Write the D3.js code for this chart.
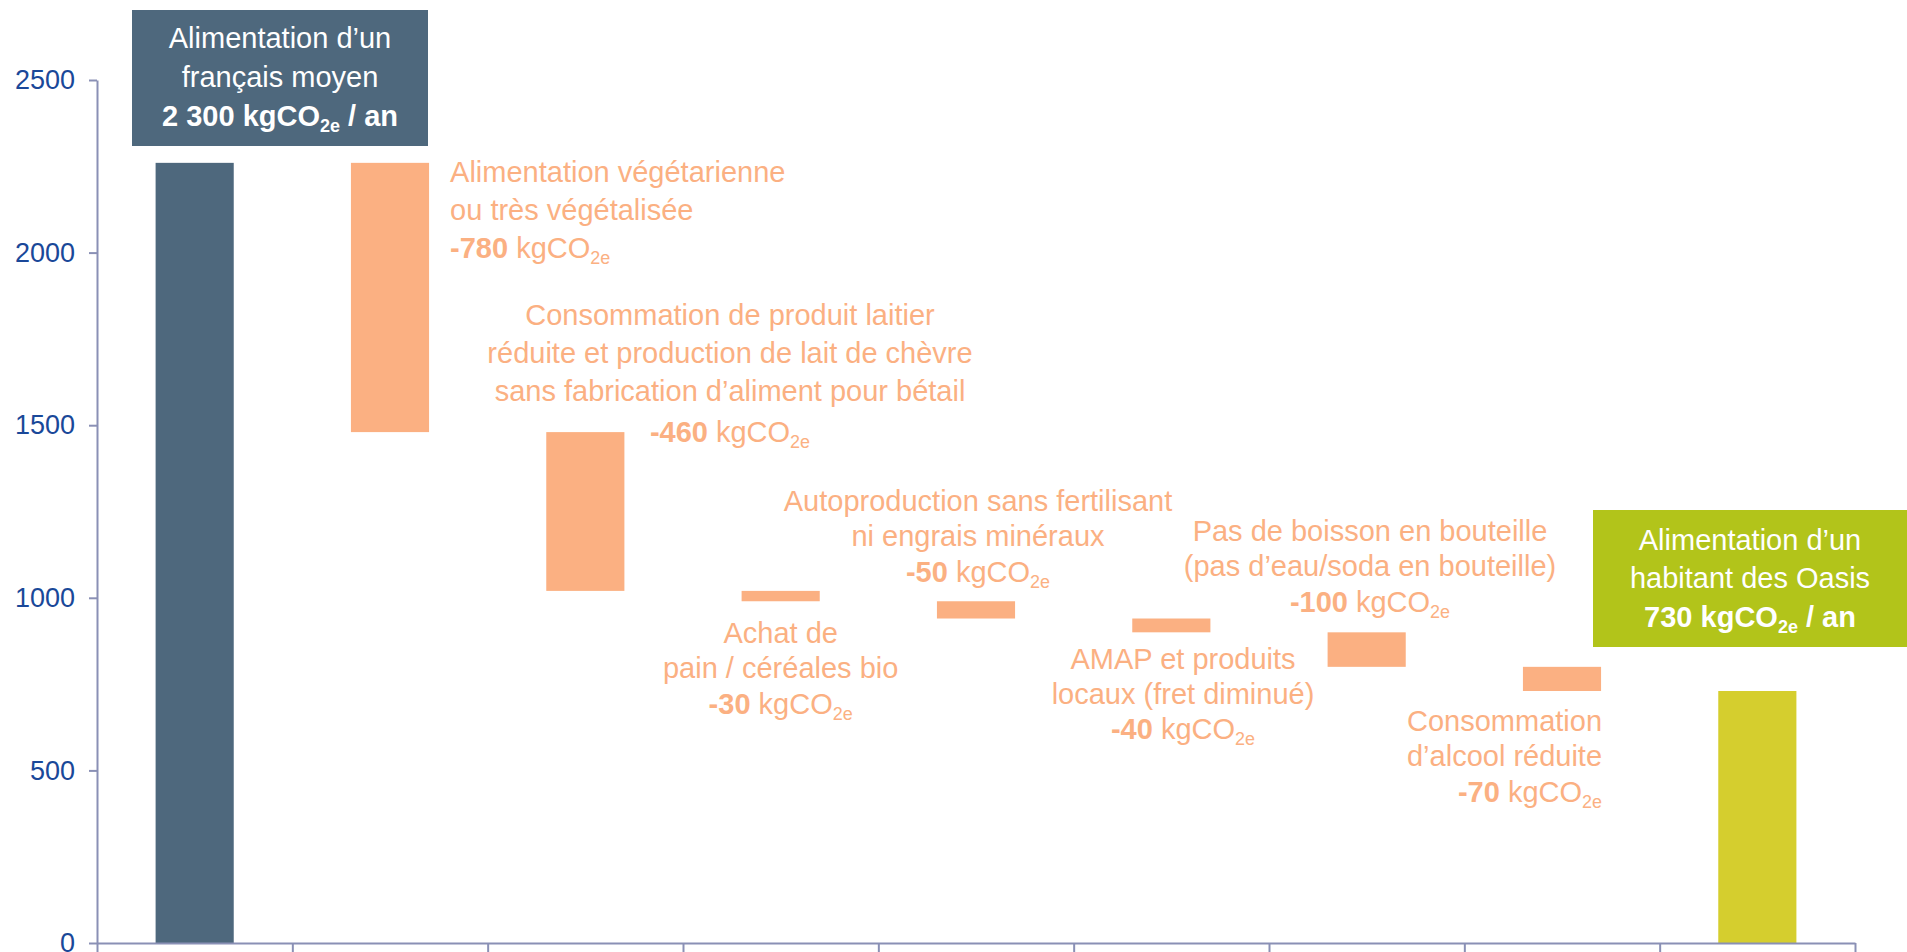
<!DOCTYPE html>
<html><head><meta charset="utf-8">
<script src="https://cdn.jsdelivr.net/npm/d3@7"></script>
<style>
html,body{margin:0;padding:0;background:#fff;}
svg{display:block;font-family:Arial,"Liberation Sans",sans-serif;}
</style></head>
<body>
<svg id="c" width="1907" height="952"></svg>
<script>
// ---- data ----
const categories = ["Français moyen","Végétarienne","Laitier","Pain bio","Autoproduction","AMAP","Boisson","Alcool","Oasis"];
const startValue = 2260;
const deltas = [-780,-460,-30,-50,-40,-100,-70];
const endValue = 730;
const yTicks = [0,500,1000,1500,2000,2500];
const deltaLabels = [
  {lines:["Alimentation végétarienne","ou très végétalisée"], value:"-780"},
  {lines:["Consommation de produit laitier","réduite et production de lait de chèvre","sans fabrication d’aliment pour bétail"], value:"-460"},
  {lines:["Achat de","pain / céréales bio"], value:"-30"},
  {lines:["Autoproduction sans fertilisant","ni engrais minéraux"], value:"-50"},
  {lines:["AMAP et produits","locaux (fret diminué)"], value:"-40"},
  {lines:["Pas de boisson en bouteille","(pas d’eau/soda en bouteille)"], value:"-100"},
  {lines:["Consommation","d’alcool réduite"], value:"-70"}
];
const startBox = {lines:["Alimentation d’un","français moyen"], value:"2 300"};
const endBox = {lines:["Alimentation d’un","habitant des Oasis"], value:"730"};

// ---- layout ----
const C = {dark:"#4E687D", orange:"#FBB082", green:"#D5CE2E", greenBox:"#B2C41A", axis:"#8A90B5", tick:"#1A4899"};
const svg = d3.select("#c");
const x0 = 97, x1 = 1855, yBase = 943, yTop = 80;
const x = d3.scaleBand().domain(categories).range([x0,x1]).paddingInner(0.6).paddingOuter(0.3);
const y = d3.scaleLinear().domain([0,2500]).range([yBase,yTop]);
const xEdges = d3.scaleLinear().domain([0,categories.length]).range([x0,x1]);

// build waterfall segments
const segs = [];
segs.push({cat:categories[0], lo:0, hi:startValue, color:C.dark});
let run = startValue;
deltas.forEach((d,i)=>{ const nv = run + d; segs.push({cat:categories[i+1], lo:Math.min(run,nv), hi:Math.max(run,nv), color:C.orange}); run = nv; });
segs.push({cat:categories[categories.length-1], lo:0, hi:endValue, color:C.green});

svg.append("g").selectAll("rect").data(segs).join("rect")
  .attr("x",d=>x(d.cat)).attr("width",x.bandwidth())
  .attr("y",d=>y(d.hi)).attr("height",d=>y(d.lo)-y(d.hi))
  .attr("fill",d=>d.color);

// axes
const ya = svg.append("g").attr("transform",`translate(${x0},0)`)
  .call(d3.axisLeft(y).tickValues(yTicks).tickSize(8).tickSizeOuter(0).tickPadding(14).tickFormat(d3.format("d")));
ya.select(".domain").attr("stroke",C.axis).attr("stroke-width",2);
ya.selectAll(".tick line").attr("stroke",C.axis).attr("stroke-width",2);
ya.selectAll(".tick text").attr("fill",C.tick).attr("font-size",27).attr("font-family","Arial,'Liberation Sans',sans-serif");

const xa = svg.append("g").attr("transform",`translate(0,${yBase})`)
  .call(d3.axisBottom(xEdges).tickValues(d3.range(0,categories.length+1)).tickSize(9).tickSizeOuter(0).tickFormat(""));
xa.select(".domain").attr("stroke",C.axis).attr("stroke-width",2);
xa.selectAll(".tick line").attr("stroke",C.axis).attr("stroke-width",2);

// helper: value line  "<b>-780</b> kgCO2e"
function valueLine(g, xPos, yPos, anchor, val, color, size){
  const t = g.append("text").attr("x",xPos).attr("y",yPos).attr("text-anchor",anchor)
    .attr("fill",color).attr("font-size",size);
  t.append("tspan").attr("font-weight","bold").text(val);
  t.append("tspan").text(" kgCO");
  t.append("tspan").attr("font-size",size*0.62).attr("dy",size*0.22).text("2e");
  return t;
}
function textLine(g,xPos,yPos,anchor,str,color,size,weight){
  return g.append("text").attr("x",xPos).attr("y",yPos).attr("text-anchor",anchor)
    .attr("fill",color).attr("font-size",size).attr("font-weight",weight||"normal").text(str);
}

const FS = 29;
const lab = svg.append("g");
const cx = c => x(c)+x.bandwidth()/2;
const place = [
  {a:"start",  x: x(categories[1])+x.bandwidth()+21, y: 182, s:[38,38]},
  {a:"middle", x: 730, y: 325, s:[38,38,41]},
  {a:"middle", x: cx(categories[3]), y: 643, s:[35,36]},
  {a:"middle", x: cx(categories[4])+2, y: 511, s:[35,36]},
  {a:"middle", x: 1183, y: 669, s:[35,35]},
  {a:"middle", x: 1370, y: 541, s:[35,36]},
  {a:"end",    x: x(categories[7])+x.bandwidth()+1, y: 731, s:[35,36]}
];
deltaLabels.forEach((L,i)=>{
  const p = place[i]; let yy = p.y;
  L.lines.forEach((ln,j)=>{ textLine(lab,p.x,yy,p.a,ln,C.orange,FS); yy += p.s[j]; });
  valueLine(lab,p.x,yy,p.a,L.value,C.orange,FS);
});

// boxes
function box(b, rx, ry, rw, rh, fill, baselines){
  const g = svg.append("g");
  g.append("rect").attr("x",rx).attr("y",ry).attr("width",rw).attr("height",rh).attr("fill",fill);
  const mx = rx+rw/2;
  b.lines.forEach((ln,j)=>textLine(g,mx,baselines[j],"middle",ln,"#fff",FS));
  const t = g.append("text").attr("x",mx).attr("y",baselines[2]).attr("text-anchor","middle")
    .attr("fill","#fff").attr("font-size",FS).attr("font-weight","bold");
  t.append("tspan").text(b.value+" kgCO");
  t.append("tspan").attr("font-size",FS*0.62).attr("dy",FS*0.22).text("2e");
  t.append("tspan").attr("dy",-FS*0.22).text(" / an");
}
box(startBox,132,10,296,136,C.dark,[48,87,126]);
box(endBox,1593,510,314,137,C.greenBox,[550,588,627]);
</script>
</body></html>
